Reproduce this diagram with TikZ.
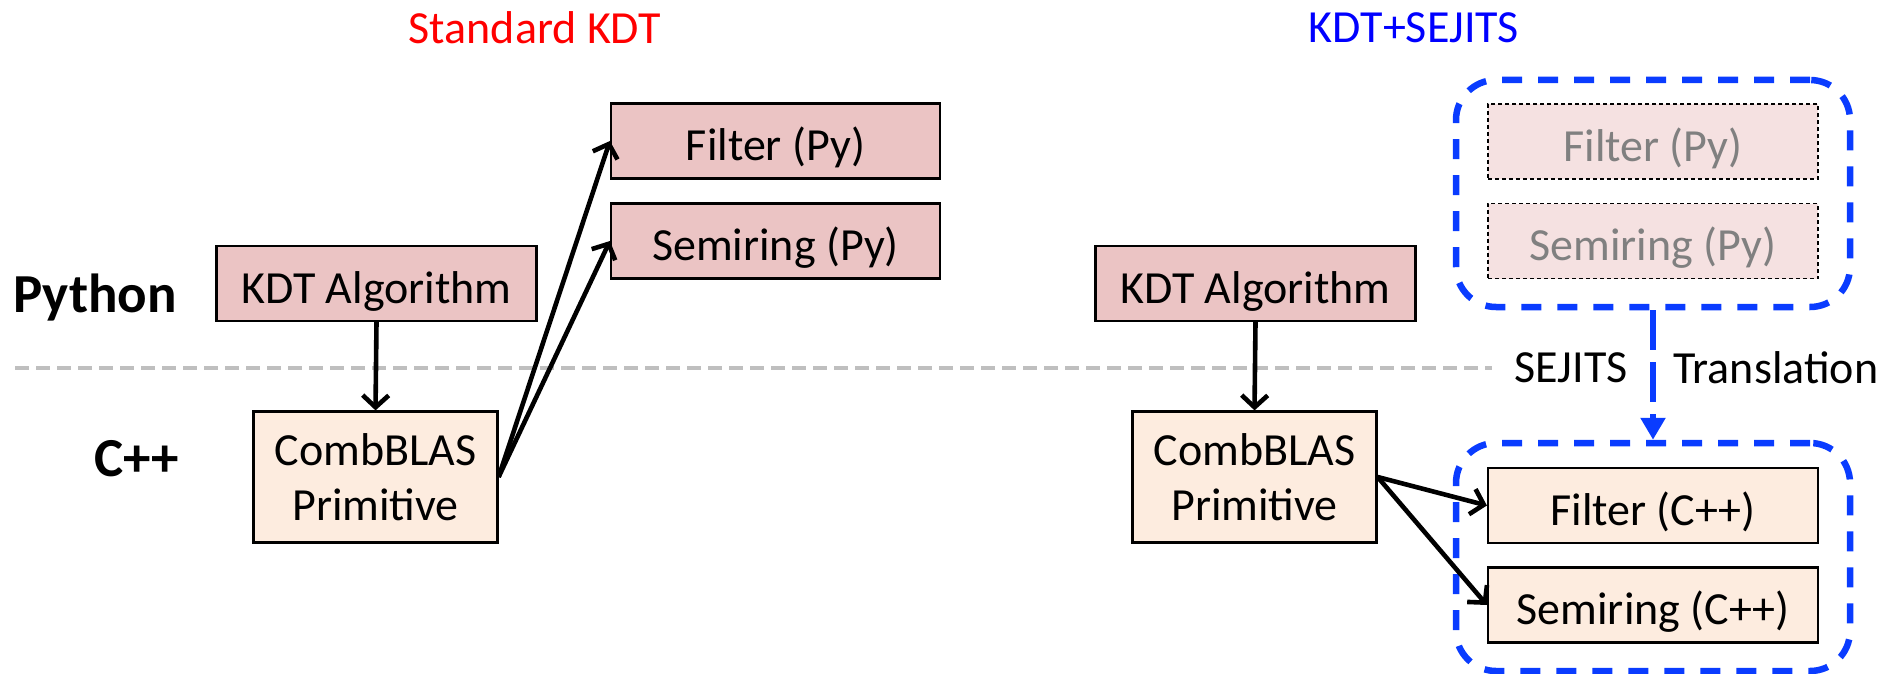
\documentclass[tikz,border=0pt]{standalone}
\usepackage{fontspec}
\setmainfont{Carlito}
\usetikzlibrary{arrows.meta}
\definecolor{pyfill}{HTML}{EBC4C4}
\definecolor{cfill}{HTML}{FDECDF}
\definecolor{ghostfill}{HTML}{F5E1E1}
\definecolor{ghosttext}{HTML}{808080}
\definecolor{sejblue}{HTML}{0A3CFF}
\definecolor{titleblue}{HTML}{0000FF}
\definecolor{titlered}{HTML}{FF0000}
\definecolor{divgray}{HTML}{BFBFBF}
\begin{document}
\begin{tikzpicture}[x=1pt,y=-1pt,
  txt/.style={font=\fontsize{46}{55}\selectfont},
  lbl/.style={font=\bfseries\fontsize{55}{66}\selectfont},
  box/.style={txt, draw=black, line width=2.2pt, inner sep=0pt, align=center},
  oneline/.style={text height=39pt, text depth=0pt},
  pybox/.style={box, oneline, fill=pyfill, minimum width=324pt, minimum height=75pt},
  cbox/.style={box, oneline, fill=cfill, minimum width=330pt, minimum height=75pt},
  algbox/.style={box, oneline, fill=pyfill, minimum width=320pt, minimum height=75pt},
  primbox/.style={box, fill=cfill, minimum width=244pt, minimum height=131pt},
  ghost/.style={box, oneline, fill=ghostfill, line width=1.5pt, dash pattern=on 4pt off 3pt,
    text=ghosttext, minimum width=330pt, minimum height=75pt},
  group/.style={draw=sejblue, line width=6.5pt, dash pattern=on 20pt off 16pt,
    rounded corners=40pt, minimum width=394pt, minimum height=227pt, inner sep=0pt},
  flow/.style={-{Straight Barb[length=12pt,width=26pt]}, line width=4.6pt, black},
  transl/.style={-{Triangle[length=22pt,width=24pt]}, line width=6.5pt, sejblue,
    dash pattern=on 40pt off 12pt},
  divider/.style={draw=divgray, line width=3.5pt, dash pattern=on 14pt off 7pt}
]
\useasboundingbox (0,0) rectangle (1887,674);

% titles
\node[txt, text=titlered]  (titleL) at (535,28)  {Standard KDT};
\node[txt, text=titleblue] (titleR) at (1414,28) {KDT+SEJITS};

% layer labels and the language boundary
\node[lbl] (pyLabel) at (95,298) {Python};
\node[lbl] (cLabel)  at (137,459) {C++};
\coordinate (divStart) at (15,368);
\coordinate (divEnd)   at (1492,368);
\draw[divider] (divStart) -- (divEnd);

% standard KDT stack
\node[pybox, minimum width=329pt] (filterPyL) at (775.5,141) {Filter (Py)};
\node[pybox, minimum width=329pt] (semiPyL)   at (775.5,241) {Semiring (Py)};
\node[algbox]  (kdtL)  at (376.5,283.5) {KDT Algorithm};
\node[primbox] (combL) at (375.5,477)   {CombBLAS\\Primitive};

\draw[flow] (kdtL.south) -- (combL.north);
\draw[flow] (combL.east) -- (filterPyL.west);
\draw[flow] (combL.east) -- (semiPyL.west);

% KDT+SEJITS stack
\node[algbox]  (kdtR)  at (1255.5,283.5) {KDT Algorithm};
\node[primbox] (combR) at (1254.5,477)   {CombBLAS\\Primitive};

\node[group] (pyGroup) at (1653,193.5) {};
\node[ghost] (filterPyR) at (1653,141.5) {Filter (Py)};
\node[ghost] (semiPyR)   at (1653,241)   {Semiring (Py)};

\node[group, minimum height=228pt] (cGroup) at (1653,557) {};
\node[cbox] (filterC) at (1653,505.5) {Filter (C++)};
\node[cbox] (semiC)   at (1653,605)   {Semiring (C++)};

\draw[flow] (kdtR.south) -- (combR.north);
\draw[flow] (combR.east) -- (filterC.west);
\draw[flow] (combR.east) -- (semiC.west);

% translation step
\draw[transl] (pyGroup.south) -- (cGroup.north);
\node[txt] (sejLabel) at (1571,368) {SEJITS};
\node[txt, anchor=west, inner sep=0pt] (trLabel) at (1673,368) {Translation};
\end{tikzpicture}
\end{document}
